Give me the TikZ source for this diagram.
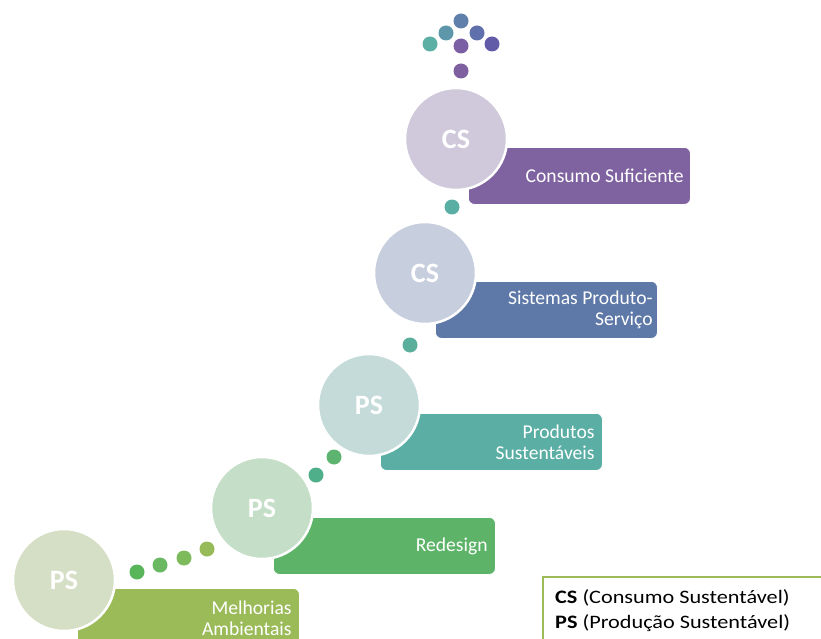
\documentclass[tikz,border=0pt]{standalone}
\usepackage{fontspec}
\setmainfont{Carlito}
\newfontfamily\legfont[FakeStretch=1.17]{Carlito}
\definecolor{olive}{HTML}{9BBB59}
\definecolor{grn}{HTML}{5DB468}
\definecolor{teal2}{HTML}{5AAEA4}
\definecolor{blu}{HTML}{5E78A8}
\definecolor{purp}{HTML}{7F63A0}
\definecolor{cA}{HTML}{D5DFC5}
\definecolor{cB}{HTML}{C5DEC8}
\definecolor{cC}{HTML}{C4DBD9}
\definecolor{cD}{HTML}{C7CEDD}
\definecolor{cE}{HTML}{CFC9DB}
\definecolor{dA}{HTML}{59B55A}
\definecolor{dB}{HTML}{6AB862}
\definecolor{dC}{HTML}{7CBA5C}
\definecolor{dD}{HTML}{96BB58}
\definecolor{dE}{HTML}{4FAF8A}
\definecolor{dF}{HTML}{5DB470}
\definecolor{dG}{HTML}{59AE9C}
\definecolor{dH}{HTML}{5AAFA4}
\definecolor{dI}{HTML}{7E60A0}
\definecolor{dJ}{HTML}{7A5FA5}
\definecolor{dK}{HTML}{5BAFA5}
\definecolor{dL}{HTML}{625CA8}
\definecolor{dM}{HTML}{5E96AA}
\definecolor{dN}{HTML}{6070AC}
\definecolor{dO}{HTML}{5E80AA}
\tikzset{
  stagebox/.style={rectangle, rounded corners=6pt, fill=#1, draw=white, line width=0.8pt,
    minimum width=222pt, minimum height=57pt, anchor=north west, inner sep=0pt},
  stagelabel/.style={anchor=east, text=white, align=right, inner sep=0pt,
    font=\fontsize{19.6}{21}\selectfont},
  stagecircle/.style={circle, fill=#1, draw=white, line width=2.5pt, minimum size=102pt,
    inner sep=0pt, text=white, font=\fontsize{28}{30}\selectfont\bfseries},
  stepdot/.style={circle, fill=#1, draw=none, minimum size=15pt, inner sep=0pt},
}
\begin{document}
\begin{tikzpicture}[x=1pt,y=-1pt]
\useasboundingbox (0,0) rectangle (821,639);
\clip (0,0) rectangle (821,639);

% stage bars
\node[stagebox=olive] (r1) at (77,588) {};
\node[stagebox=grn]   (r2) at (273,517) {};
\node[stagebox=teal2] (r3) at (380,413) {};
\node[stagebox=blu]   (r4) at (435,281) {};
\node[stagebox=purp]  (r5) at (468,147) {};

\node[stagelabel] (t1) at ([xshift=-8pt,yshift=-1pt]r1.east) {Melhorias\\Ambientais};
\node[stagelabel] (t2) at ([xshift=-8pt]r2.east) {Redesign};
\node[stagelabel] (t3) at ([xshift=-8pt]r3.east) {Produtos\\Sustentáveis};
\node[stagelabel] (t4) at ([xshift=-5pt]r4.east) {Sistemas Produto-\\Serviço};
\node[stagelabel] (t5) at ([xshift=-7pt]r5.east) {Consumo Suficiente};

% stage circles
\node[stagecircle=cA] (c1) at (64,580) {PS};
\node[stagecircle=cB] (c2) at (262,508) {PS};
\node[stagecircle=cC] (c3) at (369,405) {PS};
\node[stagecircle=cD] (c4) at (425,273) {CS};
\node[stagecircle=cE] (c5) at (456,139) {CS};

% dotted steps between circles
\node[stepdot=dA] (d1) at (137,572) {};
\node[stepdot=dB] (d2) at (160,565) {};
\node[stepdot=dC] (d3) at (184,558) {};
\node[stepdot=dD] (d4) at (207,549) {};
\node[stepdot=dE] (d5) at (316,475) {};
\node[stepdot=dF] (d6) at (334,457) {};
\node[stepdot=dG] (d7) at (410,345) {};
\node[stepdot=dH] (d8) at (452,207) {};
% arrow head of dots
\node[stepdot=dI] (d9)  at (461,71) {};
\node[stepdot=dJ] (d10) at (461,46) {};
\node[stepdot=dK] (d11) at (430,44) {};
\node[stepdot=dL] (d12) at (492,44) {};
\node[stepdot=dM] (d13) at (446,33) {};
\node[stepdot=dN] (d14) at (477,33) {};
\node[stepdot=dO] (d15) at (461,21) {};

% legend
\coordinate (lgA) at (543,650);
\coordinate (lgB) at (543,577);
\coordinate (lgC) at (830,577);
\draw[olive, line width=1.5pt] (lgA) -- (lgB) -- (lgC);
\node[anchor=west, align=left, inner sep=0pt, font=\legfont\fontsize{19}{25}\selectfont] (leg) at (555,611)
  {\textbf{CS} (Consumo Sustentável)\\\textbf{PS} (Produção Sustentável)};
\end{tikzpicture}
\end{document}
